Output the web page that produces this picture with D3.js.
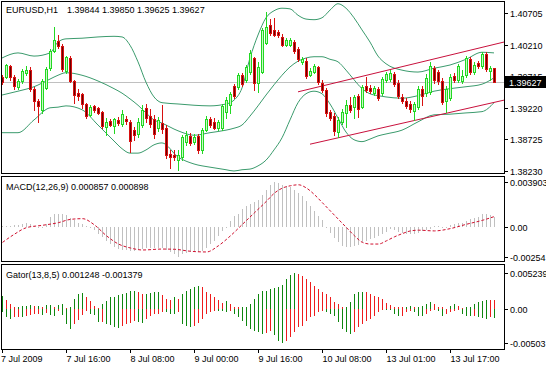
<!DOCTYPE html>
<html>
<head>
<meta charset="utf-8">
<script src="https://cdn.jsdelivr.net/npm/d3@7"></script>
<style>
  body { margin: 0; background: #fff; }
  svg { display: block; }
  text { font-family: "Liberation Sans", Arial, sans-serif; font-size: 9px; fill: #000; }
</style>
</head>
<body>
<svg></svg>
<script>
const svgWidth = 546;
const svgHeight = 366;

// EURUSD H1 candles
const opens = [1.3970,1.3970,1.3988,1.3970,1.3955,1.3964,1.3977,1.3981,1.3952,1.3933,
  1.3919,1.3953,1.3984,1.4011,1.4027,1.4019,1.3980,1.4000,1.3964,1.3945,
  1.3944,1.3928,1.3911,1.3925,1.3922,1.3916,1.3892,1.3901,1.3894,1.3903,
  1.3897,1.3905,1.3900,1.3887,1.3881,1.3895,1.3922,1.3909,1.3905,1.3890,
  1.3898,1.3890,1.3850,1.3848,1.3840,1.3845,1.3869,1.3878,1.3869,1.3878,
  1.3856,1.3887,1.3905,1.3900,1.3890,1.3890,1.3916,1.3926,1.3956,1.3955,
  1.3973,1.3966,1.3978,1.4000,1.3961,1.3978,1.4024,1.4052,1.4044,1.4041,
  1.4033,1.4020,1.4020,1.4025,1.4014,1.3994,1.3995,1.3973,1.3978,1.3986,
  1.3961,1.3950,1.3916,1.3909,1.3884,1.3900,1.3914,1.3926,1.3923,1.3941,
  1.3923,1.3956,1.3953,1.3945,1.3952,1.3945,1.3966,1.3967,1.3975,1.3961,
  1.3939,1.3933,1.3928,1.3917,1.3923,1.3952,1.3945,1.3947,1.3984,1.3978,
  1.3964,1.3933,1.3937,1.3972,1.3966,1.3964,1.3973,1.3998,1.3978,1.3992,
  1.3988,1.4006,1.3980,1.39844];
const highs = [1.3973,1.3991,1.3989,1.3973,1.3967,1.3983,1.3988,1.3986,1.3955,1.3936,
  1.3967,1.3986,1.4014,1.4049,1.4036,1.4022,1.4003,1.4003,1.3966,1.3952,
  1.3945,1.3930,1.3926,1.3926,1.3923,1.3917,1.3906,1.3905,1.3906,1.3908,
  1.3919,1.3909,1.3903,1.3892,1.3906,1.3926,1.3928,1.3920,1.3911,1.3908,
  1.3926,1.3895,1.3856,1.3856,1.3856,1.3879,1.3886,1.3883,1.3881,1.3881,
  1.3890,1.3909,1.3908,1.3906,1.3903,1.3928,1.3939,1.3947,1.3959,1.3977,
  1.3977,1.3989,1.4013,1.4002,1.3994,1.4047,1.4072,1.4061,1.4063,1.4044,
  1.4038,1.4031,1.4031,1.4028,1.4017,1.4002,1.4000,1.3984,1.3991,1.3988,
  1.3966,1.3953,1.3919,1.3914,1.3908,1.3920,1.3934,1.3939,1.3942,1.3944,
  1.3958,1.3970,1.3958,1.3956,1.3955,1.3970,1.3978,1.3981,1.3978,1.3966,
  1.3944,1.3937,1.3933,1.3931,1.3956,1.3956,1.3975,1.3994,1.3988,1.3981,
  1.3969,1.3956,1.3975,1.3977,1.3991,1.3981,1.4003,1.4002,1.3994,1.3995,
  1.4009,1.4009,1.3988,1.39850];
const lows = [1.3959,1.3969,1.3966,1.3952,1.3952,1.3961,1.3973,1.3948,1.3919,1.3900,
  1.3914,1.3952,1.3981,1.4009,1.4016,1.3980,1.3977,1.3962,1.3930,1.3934,
  1.3922,1.3906,1.3909,1.3916,1.3912,1.3890,1.3879,1.3894,1.3883,1.3895,
  1.3894,1.3897,1.3853,1.3872,1.3876,1.3892,1.3900,1.3892,1.3875,1.3886,
  1.3883,1.3843,1.3828,1.3840,1.3825,1.3840,1.3864,1.3864,1.3865,1.3851,
  1.3851,1.3886,1.3892,1.3889,1.3887,1.3887,1.3906,1.3914,1.3937,1.3952,
  1.3956,1.3962,1.3975,1.3950,1.3947,1.3977,1.4022,1.4036,1.4034,1.4033,
  1.4019,1.4019,1.4019,1.4008,1.3995,1.3991,1.3969,1.3972,1.3977,1.3959,
  1.3947,1.3909,1.3903,1.3879,1.3876,1.3897,1.3892,1.3916,1.3906,1.3908,
  1.3922,1.3947,1.3945,1.3942,1.3934,1.3942,1.3962,1.3964,1.3956,1.3937,
  1.3930,1.3922,1.3916,1.3903,1.3920,1.3926,1.3941,1.3944,1.3961,1.3959,
  1.3928,1.3916,1.3934,1.3962,1.3962,1.3961,1.3970,1.3975,1.3975,1.3984,
  1.3984,1.3980,1.3966,1.39625];
const closes = [1.3962,1.3989,1.3970,1.3956,1.3964,1.3980,1.3981,1.3952,1.3933,1.3925,
  1.3964,1.3983,1.4011,1.4028,1.4019,1.3983,1.4002,1.3964,1.3942,1.3941,
  1.3928,1.3909,1.3923,1.3919,1.3914,1.3894,1.3900,1.3895,1.3905,1.3898,
  1.3912,1.3901,1.3870,1.3879,1.3900,1.3919,1.3906,1.3897,1.3881,1.3903,
  1.3889,1.3848,1.3845,1.3845,1.3848,1.3876,1.3879,1.3867,1.3876,1.3856,
  1.3887,1.3905,1.3895,1.3890,1.3900,1.3925,1.3934,1.3944,1.3941,1.3973,
  1.3959,1.3986,1.4008,1.3961,1.3986,1.4044,1.4049,1.4039,1.4036,1.4036,
  1.4020,1.4028,1.4028,1.4011,1.3998,1.3998,1.3972,1.3980,1.3988,1.3962,
  1.3950,1.3914,1.3906,1.3886,1.3903,1.3916,1.3926,1.3919,1.3939,1.3920,
  1.3955,1.3950,1.3948,1.3953,1.3937,1.3967,1.3975,1.3977,1.3959,1.3941,
  1.3933,1.3925,1.3920,1.3928,1.3952,1.3941,1.3969,1.3988,1.3966,1.3964,
  1.3931,1.3952,1.3970,1.3966,1.3988,1.3972,1.4000,1.3978,1.3989,1.3988,
  1.4006,1.3983,1.3984,1.39627];

// Bollinger bands, sampled at these bars
const bbBars = [0,4,8,12,14,16,20,24,28,30,32,34,36,38,40,44,48,52,56,58,
  60,62,64,66,68,70,72,74,76,78,80,82,84,86,88,90,92,94,96,100,104,108,112,116,120,123];
const bbUpper = [1.4000,1.4008,1.4003,1.4008,1.4025,1.4030,1.4031,1.4033,1.4034,1.4033,
  1.4020,1.3994,1.3962,1.3939,1.3930,1.3928,1.3926,1.3925,1.3928,1.3934,
  1.3953,1.4000,1.4036,1.4063,1.4074,1.4078,1.4077,1.4067,1.4061,1.4060,
  1.4063,1.4075,1.4085,1.4078,1.4063,1.4044,1.4025,1.4003,1.3991,1.3981,
  1.3978,1.3984,1.3989,1.3998,1.4009,1.4008];
const bbMiddle = [1.3942,1.3948,1.3955,1.3967,1.3973,1.3977,1.3973,1.3964,1.3952,1.3945,
  1.3936,1.3926,1.3914,1.3903,1.3898,1.3886,1.3879,1.3883,1.3887,1.3890,
  1.3895,1.3909,1.3925,1.3942,1.3958,1.3973,1.3986,1.3995,1.4000,1.4002,
  1.4002,1.3998,1.3994,1.3981,1.3966,1.3952,1.3944,1.3941,1.3939,1.3937,
  1.3941,1.3948,1.3952,1.3955,1.3959,1.3969];
const bbLower = [1.3883,1.3883,1.3903,1.3922,1.3923,1.3925,1.3919,1.3895,1.3870,1.3858,
  1.3851,1.3851,1.3856,1.3864,1.3867,1.3845,1.3834,1.3829,1.3825,1.3823,
  1.3825,1.3826,1.3831,1.3840,1.3856,1.3875,1.3903,1.3930,1.3944,1.3948,
  1.3944,1.3928,1.3906,1.3884,1.3872,1.3869,1.3873,1.3878,1.3881,1.3887,
  1.3900,1.3911,1.3912,1.3914,1.3916,1.3930];

// trend channel, [bar, price] ends
const channelUpper = [[74, 1.3947], [125.5, 1.4025]];
const channelLower = [[77, 1.3865], [125.5, 1.3934]];
const bidPrice = 1.39627;

const macdMain = [0.00008,0.00008,0.00008,0.00014,0.00014,0.00023,0.00031,0.00023,0.00008,-0.00006,
  0.00003,0.00023,0.00085,0.00113,0.00113,0.00108,0.00099,0.00079,0.00057,0.00037,
  0.00023,0.00008,-0.00006,-0.00028,-0.00057,-0.00085,-0.00119,-0.00147,-0.0017,-0.0019,
  -0.00198,-0.00198,-0.00204,-0.00204,-0.00198,-0.0019,-0.00181,-0.00181,-0.00181,-0.00181,
  -0.00181,-0.00198,-0.00218,-0.00232,-0.00254,-0.00232,-0.00224,-0.00218,-0.00218,-0.00218,
  -0.00209,-0.00181,-0.00147,-0.00119,-0.00076,-0.00034,-0.00006,0.00051,0.00093,0.00113,
  0.0015,0.00178,0.00198,0.00215,0.00235,0.00272,0.0032,0.00362,0.0039,0.00376,
  0.00362,0.00348,0.0034,0.0032,0.00291,0.00263,0.00221,0.00178,0.00136,0.00093,
  0.00057,0.00001,-0.00048,-0.00091,-0.00133,-0.00161,-0.0017,-0.0017,-0.00161,-0.00153,
  -0.00133,-0.00119,-0.00105,-0.00091,-0.00076,-0.00062,-0.0004,-0.0002,-0.00028,-0.0004,
  -0.00048,-0.00062,-0.00062,-0.00062,-0.00048,-0.00034,-0.00028,-0.0002,0.00008,0.00008,
  -0.00006,-0.00011,0.00017,0.00028,0.00037,0.00037,0.00051,0.00065,0.00074,0.00085,
  0.00108,0.00113,0.00102,0.000857];
const signalBars = [0,3,6,10,14,17,20,23,26,29,32,35,40,43,47,51,54,57,60,63,66,68,70,72,74,
  76,78,80,82,84,86,88,90,92,94,96,98,100,102,104,108,112,116,120,123];
const signalVals = [-0.00133,-0.00062,-0.00006,0.00014,0.00037,0.00065,0.00071,0.00017,-0.00076,-0.00147,
  -0.00181,-0.00198,-0.0019,-0.00192,-0.00209,-0.00215,-0.00161,-0.00076,0.00023,0.00122,
  0.00221,0.00291,0.00334,0.00354,0.00362,0.00334,0.00277,0.00207,0.00136,0.00065,
  -0.00006,-0.00076,-0.00133,-0.00147,-0.00147,-0.00119,-0.00085,-0.00057,-0.00034,-0.00028,
  -0.00034,-0.00014,0.00023,0.00057,0.000898];

const gatorUp = [0.00191,0.00127,0.00068,0.0002,0.00024,0.00034,0.00044,0.00049,0.00039,0.00044,
  0.00029,0.00049,0.00054,0.0002,0.00049,0.00073,0.0001,0.00029,0.00147,0.00215,
  0.00225,0.00176,0.00117,0.00044,0.00005,0.00068,0.00117,0.00166,0.00176,0.00196,
  0.00215,0.0023,0.00254,0.00264,0.0024,0.00215,0.00218,0.0023,0.00238,0.00242,
  0.00196,0.00147,0.00127,0.00166,0.00147,0.00215,0.00264,0.00293,0.00313,0.00337,
  0.00313,0.0024,0.00215,0.00166,0.00127,0.00078,0.00117,0.00068,0.0002,0.00018,
  0.00021,0.00024,0.00068,0.00142,0.00215,0.00254,0.00264,0.00284,0.00303,0.00323,
  0.00352,0.00435,0.00489,0.00523,0.00509,0.00484,0.00435,0.00386,0.00337,0.00289,
  0.0024,0.00215,0.00166,0.00093,0.00068,0.0002,0.00024,0.00093,0.00215,0.0024,
  0.00244,0.00242,0.00215,0.00191,0.00166,0.00142,0.00078,0.00059,0.00029,0.00027,
  0.0002,0.00029,0.00044,0.0002,0.00022,0.00044,0.00068,0.00093,0.00068,0.0002,
  0.00018,0.00002,0.00044,0.00068,0.00044,0.00005,0.0002,0.00022,0.00068,0.00093,
  0.00117,0.00127,0.00126,0.001248];
const gatorDn = [-0.00054,-0.00127,-0.00152,-0.00127,-0.00122,-0.00127,-0.00108,-0.00088,-0.00078,-0.00073,
  -0.00088,-0.00059,-0.00098,-0.00108,-0.00029,-0.00098,-0.00225,-0.00293,-0.00225,-0.00166,
  -0.00098,-0.00029,-0.00078,-0.00098,-0.002,-0.00196,-0.00225,-0.00245,-0.00274,-0.00284,
  -0.00254,-0.00225,-0.00205,-0.00176,-0.002,-0.00205,-0.00152,-0.00103,-0.00078,-0.00073,
  -0.00049,-0.00054,-0.00078,-0.0008,-0.00054,-0.00225,-0.00254,-0.00274,-0.00254,-0.00205,
  -0.00156,-0.00078,-0.00054,-0.00029,-0.00031,-0.00033,-0.00054,-0.00029,-0.00078,-0.00127,
  -0.00176,-0.00249,-0.00298,-0.00323,-0.00347,-0.00372,-0.00352,-0.00323,-0.00391,-0.00469,
  -0.00503,-0.00469,-0.00421,-0.00347,-0.00274,-0.00249,-0.00176,-0.00127,-0.00103,-0.00054,
  -0.00029,-0.00054,-0.00078,-0.00103,-0.002,-0.00298,-0.00347,-0.00372,-0.00347,-0.00274,
  -0.00225,-0.00176,-0.00152,-0.00103,-0.00054,-0.00005,-0.00007,-0.0002,-0.00078,-0.00103,
  -0.00101,-0.00054,-0.00029,-0.00054,-0.00103,-0.00105,-0.00078,-0.00029,-0.00005,-0.00029,
  -0.00103,-0.00078,-0.00054,-0.00029,-0.00005,-0.00078,-0.00103,-0.00105,-0.00104,-0.00127,
  -0.00129,-0.00152,-0.00127,-0.001379];

const priceTicks = [1.40705, 1.40210, 1.39715, 1.39220, 1.38725, 1.38230];
const macdTicks = [0.003903, 0, -0.00254];
const macdTickText = ["0.003903", "0.00", "-0.00254"];
const gatorTicks = [0.005239, 0, -0.00503];
const gatorTickText = ["0.005239", "0.00", "-0.00503"];
const timeBars = [0, 16, 32, 48, 64, 80, 96, 112];
const timeLabels = ["7 Jul 2009", "7 Jul 16:00", "8 Jul 08:00", "9 Jul 00:00",
  "9 Jul 16:00", "10 Jul 08:00", "13 Jul 01:00", "13 Jul 17:00"];

const svg = d3.select("svg")
    .attr("width", svgWidth)
    .attr("height", svgHeight);

const x = d3.scaleLinear().domain([0, 125.5]).range([2, 504]);
const yPrice = d3.scaleLinear().domain([1.38230, 1.40705]).range([171, 13]);
const yMacd = d3.scaleLinear().domain([-0.00254, 0.003903]).range([256.5, 181.5]);
const yGator = d3.scaleLinear().domain([-0.00503, 0.005239]).range([343, 273]);

const panels = [
    {id: "clipMain", top: 1, bottom: 173},
    {id: "clipMacd", top: 176, bottom: 261},
    {id: "clipGator", top: 264, bottom: 349}
];
const defs = svg.append("defs");
panels.forEach(p => {
    defs.append("clipPath").attr("id", p.id)
        .append("rect")
        .attr("x", 2).attr("y", p.top + 1)
        .attr("width", 502).attr("height", p.bottom - p.top - 1);
});

const px = i => Math.round(x(i));

// ---- main price panel
const main = svg.append("g").attr("clip-path", "url(#clipMain)");

const bidY = Math.round(yPrice(bidPrice)) + 0.5;
main.append("line")
    .attr("x1", 1).attr("x2", 504)
    .attr("y1", bidY).attr("y2", bidY)
    .attr("stroke", "#c0c0c0");

const bandLine = d3.line()
    .x(d => x(d[0]))
    .y(d => yPrice(d[1]))
    .curve(d3.curveMonotoneX);

[bbUpper, bbMiddle, bbLower].forEach(band => {
    main.append("path")
        .attr("d", bandLine(bbBars.map((b, k) => [b, band[k]])))
        .attr("fill", "none")
        .attr("stroke", "#3b9b6d")
        .attr("stroke-width", 1);
});

const trendLine = d3.line().x(d => x(d[0])).y(d => yPrice(d[1]));
[channelUpper, channelLower].forEach(seg => {
    main.append("path")
        .attr("d", trendLine(seg))
        .attr("fill", "none")
        .attr("stroke", "#c8103c")
        .attr("stroke-width", 1);
});

const candles = opens.map((o, i) => ({i, o, h: highs[i], l: lows[i], c: closes[i]}));
const cg = main.selectAll("g.candle")
    .data(candles)
    .enter().append("g")
    .attr("class", "candle");

cg.append("rect")
    .attr("x", d => px(d.i))
    .attr("y", d => Math.round(yPrice(d.h)))
    .attr("width", 1)
    .attr("height", d => Math.round(yPrice(d.l)) - Math.round(yPrice(d.h)) + 1)
    .attr("fill", d => d.c >= d.o ? "#22d822" : "#d81010");

cg.append("rect")
    .attr("x", d => px(d.i) - 1)
    .attr("y", d => Math.round(yPrice(Math.max(d.o, d.c))))
    .attr("width", 3)
    .attr("height", d => Math.max(1, Math.round(yPrice(Math.min(d.o, d.c))) - Math.round(yPrice(Math.max(d.o, d.c))) + 1))
    .attr("fill", d => d.c >= d.o ? "#22d822" : "#d81010");

cg.filter(d => Math.round(yPrice(Math.min(d.o, d.c))) - Math.round(yPrice(Math.max(d.o, d.c))) >= 2)
    .append("rect")
    .attr("x", d => px(d.i))
    .attr("y", d => Math.round(yPrice(Math.max(d.o, d.c))) + 1)
    .attr("width", 1)
    .attr("height", d => Math.round(yPrice(Math.min(d.o, d.c))) - Math.round(yPrice(Math.max(d.o, d.c))) - 1)
    .attr("fill", d => d.c >= d.o ? "#c8f8c8" : "#6a0000");

// ---- MACD panel
const macdG = svg.append("g").attr("clip-path", "url(#clipMacd)");
const macdZero = Math.round(yMacd(0));
macdG.selectAll("rect")
    .data(macdMain)
    .enter().append("rect")
    .attr("x", (d, i) => px(i))
    .attr("y", d => d >= 0 ? Math.round(yMacd(d)) : macdZero)
    .attr("width", 1)
    .attr("height", d => Math.max(1, Math.abs(Math.round(yMacd(d)) - macdZero)))
    .attr("fill", "#c0c0c0");

const sigLine = d3.line()
    .x(d => x(d[0]) + 0.5)
    .y(d => yMacd(d[1]))
    .curve(d3.curveMonotoneX);
macdG.append("path")
    .attr("d", sigLine(signalBars.map((b, k) => [b, signalVals[k]])))
    .attr("fill", "none")
    .attr("stroke", "#d0102e")
    .attr("stroke-width", 1)
    .attr("stroke-dasharray", "3,2");

// ---- Gator panel
const gatorG = svg.append("g").attr("clip-path", "url(#clipGator)");
const gZero = Math.round(yGator(0));
const gColor = (arr, i) => (i === 0 || Math.abs(arr[i]) >= Math.abs(arr[i - 1])) ? "#0f870f" : "#ee1c1c";

gatorG.selectAll("rect.up")
    .data(gatorUp)
    .enter().append("rect")
    .attr("class", "up")
    .attr("x", (d, i) => px(i))
    .attr("y", d => Math.round(yGator(d)))
    .attr("width", 1)
    .attr("height", d => Math.max(1, gZero - Math.round(yGator(d))))
    .attr("fill", (d, i) => gColor(gatorUp, i));

gatorG.selectAll("rect.dn")
    .data(gatorDn)
    .enter().append("rect")
    .attr("class", "dn")
    .attr("x", (d, i) => px(i))
    .attr("y", gZero)
    .attr("width", 1)
    .attr("height", d => Math.max(1, Math.round(yGator(d)) - gZero))
    .attr("fill", (d, i) => gColor(gatorDn, i));

// ---- frames
panels.forEach(p => {
    svg.append("rect")
        .attr("x", 1.5).attr("y", p.top + 0.5)
        .attr("width", 503).attr("height", p.bottom - p.top)
        .attr("fill", "none")
        .attr("stroke", "#000");
});

// ---- right axes
function rightAxis(ticks, labels, scale) {
    ticks.forEach((t, k) => {
        const ty = Math.round(scale(t)) + 0.5;
        svg.append("line")
            .attr("x1", 505).attr("x2", 508)
            .attr("y1", ty).attr("y2", ty)
            .attr("stroke", "#000");
        svg.append("text")
            .attr("x", 510).attr("y", ty + 3.5)
            .text(labels[k]);
    });
}
rightAxis(priceTicks, priceTicks.map(d => d.toFixed(5)), yPrice);
rightAxis(macdTicks, macdTickText, yMacd);
rightAxis(gatorTicks, gatorTickText, yGator);

// bid price tag
svg.append("rect")
    .attr("x", 505).attr("y", bidY - 6.5)
    .attr("width", 41).attr("height", 12)
    .attr("fill", "#000");
svg.append("text")
    .attr("x", 509).attr("y", bidY + 3.5)
    .style("fill", "#fff")
    .text(bidPrice.toFixed(5));

// ---- time axis
timeBars.forEach((b, k) => {
    const tx = px(b) + 0.5;
    svg.append("line")
        .attr("x1", tx).attr("x2", tx)
        .attr("y1", 349).attr("y2", 353)
        .attr("stroke", "#000");
    svg.append("text")
        .attr("x", k === 0 ? 1 : tx)
        .attr("y", 361.5)
        .text(timeLabels[k]);
});

// ---- headers
svg.append("text").attr("x", 6).attr("y", 13).text("EURUSD,H1");
svg.append("text").attr("x", 67).attr("y", 13)
    .text([opens[123], highs[123], lows[123], closes[123]].map(d => d.toFixed(5)).join(" "));
svg.append("text").attr("x", 6).attr("y", 190)
    .text("MACD(12,26,9) " + macdMain[123].toFixed(6) + " " + signalVals[signalVals.length - 1].toFixed(6));
svg.append("text").attr("x", 6).attr("y", 277.5)
    .text("Gator(13,8,5) " + gatorUp[123].toFixed(6) + " " + gatorDn[123].toFixed(6));
</script>
</body>
</html>
